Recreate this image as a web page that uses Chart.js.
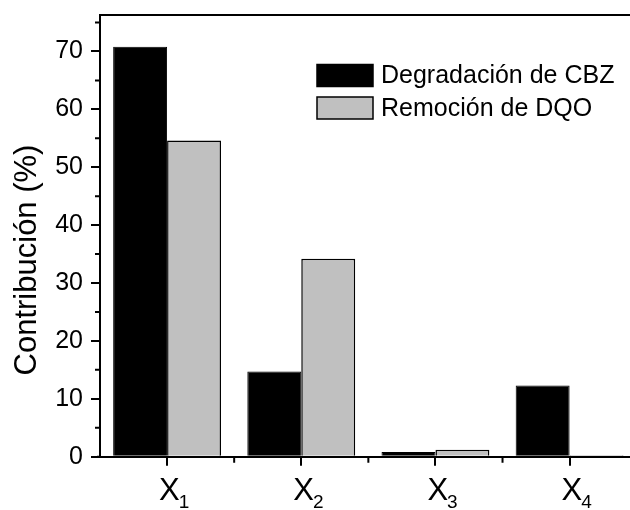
<!DOCTYPE html>
<html>
<head>
<meta charset="utf-8">
<script src="https://cdn.jsdelivr.net/npm/chart.js@4.4.1/dist/chart.umd.min.js"></script>
<style>
html, body { margin: 0; padding: 0; overflow: hidden; background: #fff; }
#wrap { width: 640px; height: 510px; }
</style>
</head>
<body>
<div id="wrap"><canvas id="bar-chart-grouped" width="640" height="510"></canvas></div>
<script>
// data
var categories = ["X₁", "X₂", "X₃", "X₄"];
var degradacionCBZ = [70.8, 14.7, 0.8, 12.3];
var remocionDQO = [54.6, 34.2, 1.2, 0.25];
var seriesNames = ["Degradación de CBZ", "Remoción de DQO"];
var seriesColors = ["#000000", "#c0c0c0"];
var yTitle = "Contribución (%)";

Chart.defaults.font.family = "'Liberation Sans', Arial, sans-serif";
Chart.defaults.color = "#000";

// minor ticks, top frame, x labels with subscripts, y title, legend
var extras = {
    id: 'extras',
    afterDraw: function(chart) {
        var ctx = chart.ctx;
        var area = chart.chartArea;
        var x = chart.scales.x, y = chart.scales.y;
        ctx.save();
        ctx.strokeStyle = '#000';
        ctx.lineWidth = 2;
        ctx.beginPath();
        ctx.moveTo(area.left - 1, area.top);
        ctx.lineTo(area.right, area.top);
        ctx.moveTo(area.left - 3, area.bottom);
        ctx.lineTo(area.left, area.bottom);
        for (var v = 5; v < y.max; v += 10) {
            var py = y.getPixelForValue(v);
            ctx.moveTo(area.left - 5, py);
            ctx.lineTo(area.left, py);
        }
        for (var i = 0; i < categories.length - 1; i++) {
            var px = (x.getPixelForValue(i) + x.getPixelForValue(i + 1)) / 2;
            ctx.moveTo(px, area.bottom);
            ctx.lineTo(px, area.bottom + 6);
        }
        ctx.stroke();

        // x labels: big X and a lowered digit
        ctx.fillStyle = '#000';
        ctx.textAlign = 'left';
        ctx.textBaseline = 'alphabetic';
        categories.forEach(function(lab, k) {
            var tx = x.getPixelForValue(k) - 8;
            var base = lab.charAt(0);
            var sub = lab.slice(1).replace(/[\u2080-\u2089]/g, function(c) {
                return String.fromCharCode(c.charCodeAt(0) - 0x2080 + 48);
            });
            ctx.font = "31px 'Liberation Sans', Arial, sans-serif";
            ctx.fillText(base, tx, 500);
            var w = ctx.measureText(base).width;
            ctx.font = "19px 'Liberation Sans', Arial, sans-serif";
            ctx.fillText(sub, tx + w - 1, 508);
        });

        // y title
        ctx.save();
        ctx.translate(27, 260);
        ctx.rotate(-Math.PI / 2);
        ctx.font = "31px 'Liberation Sans', Arial, sans-serif";
        ctx.textAlign = 'center';
        ctx.textBaseline = 'middle';
        ctx.fillText(yTitle, 0, 0);
        ctx.restore();

        // legend
        ctx.font = "25px 'Liberation Sans', Arial, sans-serif";
        ctx.textAlign = 'left';
        ctx.textBaseline = 'middle';
        ctx.lineWidth = 1.5;
        chart.data.datasets.forEach(function(ds, k) {
            var cy = 75.5 + k * 32.5;
            ctx.fillStyle = ds.backgroundColor;
            ctx.fillRect(317, cy - 11, 56, 22);
            ctx.strokeStyle = '#000';
            ctx.strokeRect(317, cy - 11, 56, 22);
            ctx.fillStyle = '#000';
            ctx.fillText(ds.label, 381, cy + 1);
        });
        ctx.restore();
    }
};

new Chart(document.getElementById("bar-chart-grouped"), {
    type: 'bar',
    data: {
        labels: categories,
        datasets: [{
            label: seriesNames[0],
            data: degradacionCBZ,
            backgroundColor: seriesColors[0],
            borderColor: '#000',
            borderWidth: 1
        }, {
            label: seriesNames[1],
            data: remocionDQO,
            backgroundColor: seriesColors[1],
            borderColor: '#000',
            borderWidth: 1.5
        }]
    },
    options: {
        responsive: false,
        animation: false,
        categoryPercentage: 0.804,
        barPercentage: 1,
        layout: { padding: { top: 15, right: 3.3, left: 0, bottom: 0 } },
        plugins: {
            legend: { display: false },
            tooltip: { enabled: false }
        },
        scales: {
            x: {
                afterFit: function(scale) {
                    scale.height = 53.3;
                    scale.paddingLeft = 0;
                    scale.paddingRight = 0;
                },
                grid: {
                    offset: false,
                    drawOnChartArea: false,
                    drawTicks: true,
                    tickLength: 9,
                    color: '#000',
                    lineWidth: 2
                },
                border: { display: true, color: '#000', width: 2 },
                ticks: { display: false }
            },
            y: {
                z: 1,
                min: 0,
                max: 76.3,
                afterFit: function(scale) {
                    scale.width = 100;
                    scale.paddingTop = 0;
                    scale.paddingBottom = 0;
                },
                grid: {
                    drawOnChartArea: false,
                    drawTicks: true,
                    tickLength: 9,
                    color: '#000',
                    lineWidth: 2
                },
                border: { display: true, color: '#000', width: 2 },
                ticks: {
                    stepSize: 10,
                    includeBounds: false,
                    padding: 8,
                    font: { size: 25 },
                    color: '#000'
                }
            }
        }
    },
    plugins: [extras]
});
</script>
</body>
</html>
